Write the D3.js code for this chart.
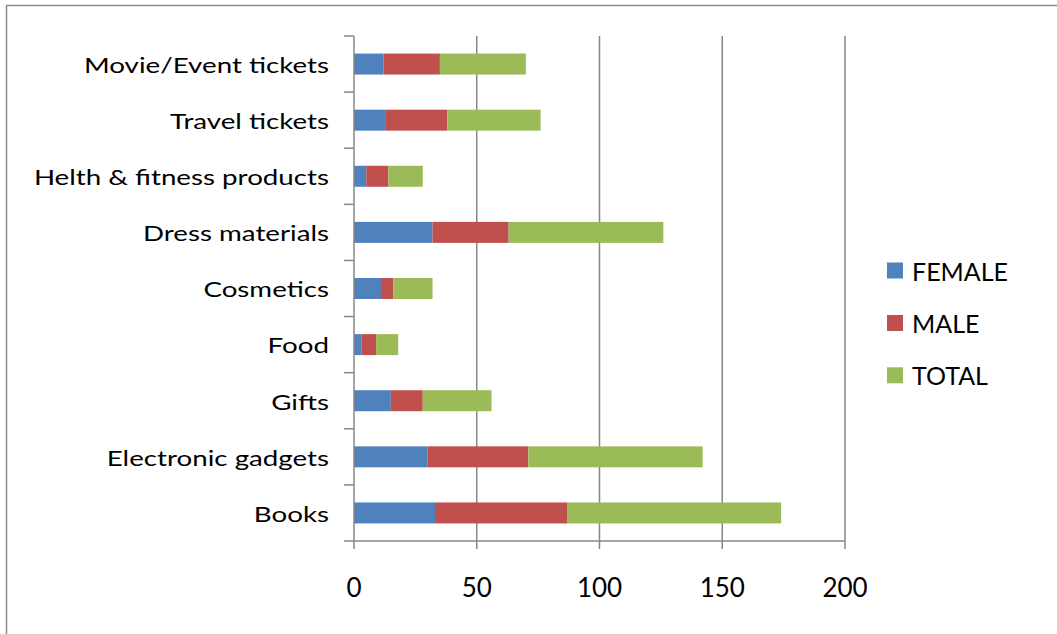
<!DOCTYPE html>
<html>
<head>
<meta charset="utf-8">
<script src="https://cdn.jsdelivr.net/npm/d3@7"></script>
<style>
  html, body { margin: 0; padding: 0; background: #fff; }
  svg { display: block; }
  text { font-family: Lato, "Open Sans", sans-serif; fill: #000; }
</style>
</head>
<body>
<svg id="chart" width="1057" height="634"></svg>
<script>
// Purchase categories, top to bottom
const categories = [
  "Movie/Event tickets", "Travel tickets", "Helth & fitness products",
  "Dress materials", "Cosmetics", "Food", "Gifts", "Electronic gadgets", "Books"
];
const seriesNames = ["FEMALE", "MALE", "TOTAL"];
const female = [12, 13, 5, 32, 11, 3, 15, 30, 33];
const male   = [23, 25, 9, 31, 5, 6, 13, 41, 54];
const total  = [35, 38, 14, 63, 16, 9, 28, 71, 87];
const xTicks = [0, 50, 100, 150, 200];
const colors = ["#4F81BD", "#C0504D", "#9BBB59"];

const rows = categories.map((c, i) => ({ cat: c, FEMALE: female[i], MALE: male[i], TOTAL: total[i] }));

const svg = d3.select("#chart");

// chart frame (top and left edges)
svg.append("path")
  .attr("d", "M6.5,634 L6.5,5.5 L1057,5.5")
  .attr("fill", "none").attr("stroke", "#8c8c8c").attr("stroke-width", 1.5);

const x = d3.scaleLinear().domain([0, 200]).range([354, 845]);
const y = d3.scaleBand().domain(categories).range([36, 541])
  .paddingInner(0.626).paddingOuter(0.313);

// vertical gridlines
svg.append("g").selectAll("line").data(xTicks.filter(t => t > 0)).join("line")
  .attr("x1", d => x(d)).attr("x2", d => x(d))
  .attr("y1", 36).attr("y2", 541)
  .attr("stroke", "#878787").attr("stroke-width", 1.5);

// stacked bars
const stack = d3.stack().keys(seriesNames)(rows);
svg.append("g").selectAll("g").data(stack).join("g")
  .attr("fill", (d, i) => colors[i])
  .selectAll("rect").data(d => d).join("rect")
  .attr("x", d => x(d[0]))
  .attr("width", d => x(d[1]) - x(d[0]))
  .attr("y", d => y(d.data.cat))
  .attr("height", y.bandwidth());

// category axis
const yAxis = svg.append("g").attr("transform", "translate(354,0)");
yAxis.append("line").attr("x1", 0).attr("x2", 0).attr("y1", 36).attr("y2", 541)
  .attr("stroke", "#878787").attr("stroke-width", 1.5);
const bounds = categories.map(c => y(c) - y.step() * y.paddingOuter()).concat([541]);
yAxis.selectAll("line.tick").data(bounds).join("line").attr("class", "tick")
  .attr("x1", -10).attr("x2", 0).attr("y1", d => d).attr("y2", d => d)
  .attr("stroke", "#878787").attr("stroke-width", 1.5);
// category labels use a wide setting of the face
yAxis.selectAll("g.lbl").data(categories).join("g").attr("class", "lbl")
  .attr("transform", c => `translate(-25,${y(c) + y.bandwidth() / 2}) scale(1.26,1)`)
  .append("text")
  .attr("x", 0).attr("y", 0)
  .attr("text-anchor", "end").attr("dominant-baseline", "central")
  .attr("font-size", 22)
  .text(c => c);

// value axis
const xAxis = svg.append("g");
xAxis.append("line").attr("x1", 354).attr("x2", 845).attr("y1", 541).attr("y2", 541)
  .attr("stroke", "#878787").attr("stroke-width", 1.5);
xAxis.selectAll("line.tick").data(xTicks).join("line").attr("class", "tick")
  .attr("x1", d => x(d)).attr("x2", d => x(d)).attr("y1", 541).attr("y2", 549)
  .attr("stroke", "#878787").attr("stroke-width", 1.5);
xAxis.selectAll("text").data(xTicks).join("text")
  .attr("x", d => x(d)).attr("y", 587)
  .attr("text-anchor", "middle").attr("dominant-baseline", "central")
  .attr("font-size", 26)
  .text(d => d);

// legend
const legendY = [270.5, 323, 375.3];
const legend = svg.append("g").selectAll("g").data(seriesNames).join("g")
  .attr("transform", (d, i) => `translate(887,${legendY[i]})`);
legend.append("rect").attr("x", 0).attr("y", -8).attr("width", 16).attr("height", 16)
  .attr("fill", (d, i) => colors[i]);
legend.append("text").attr("x", 25).attr("y", 0)
  .attr("dominant-baseline", "central").attr("font-size", 25)
  .text(d => d);
</script>
</body>
</html>
